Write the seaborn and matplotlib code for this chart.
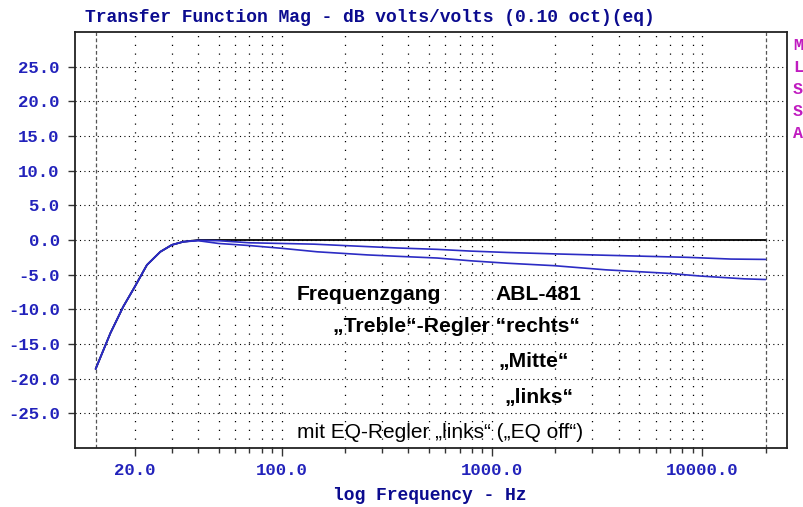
import matplotlib
matplotlib.use("Agg")
import matplotlib.pyplot as plt
import seaborn as sns
import pandas as pd
from matplotlib.ticker import FixedLocator, NullFormatter

# frequency response curves (Hz, dB)
freq_rechts = [13, 15.3, 17.6, 20, 22.8, 26.4, 30, 34, 40, 20000]
db_rechts = [-18.6, -13.4, -9.6, -6.7, -3.6, -1.7, -0.7, -0.25, 0.0, 0.0]

freq_mitte = [13, 15.3, 17.6, 20, 22.8, 26.4, 30, 34, 40, 50, 70, 142, 354,
              548, 791, 1181, 1968, 3470, 8500, 13700, 20000]
db_mitte = [-18.6, -13.4, -9.6, -6.7, -3.6, -1.7, -0.7, -0.25, -0.05, -0.1, -0.4,
            -0.6, -1.15, -1.35, -1.6, -1.8, -2.0, -2.2, -2.5, -2.75, -2.8]

freq_links = [13, 15.3, 17.6, 20, 22.8, 26.4, 30, 34, 40, 50, 70, 100, 147, 255,
              354, 548, 791, 1181, 1968, 3470, 6820, 9800, 15800, 20000]
db_links = [-18.6, -13.4, -9.6, -6.7, -3.6, -1.7, -0.7, -0.25, -0.1, -0.5, -0.8,
            -1.2, -1.7, -2.15, -2.35, -2.6, -3.0, -3.35, -3.7, -4.3, -4.8, -5.2,
            -5.6, -5.7]

y_ticks = [-25, -20, -15, -10, -5, 0, 5, 10, 15, 20, 25]
x_major = [20, 100, 1000, 10000]
x_major_labels = ["20.0", "100.0", "1000.0", "10000.0"]
x_minor = [30, 40, 50, 60, 70, 80, 90, 200, 300, 400, 500, 600, 700, 800, 900,
           2000, 3000, 4000, 5000, 6000, 7000, 8000, 9000, 20000]
grid_freqs = [20, 30, 40, 50, 60, 70, 80, 90, 100, 200, 300, 400, 500, 600, 700,
              800, 900, 1000, 2000, 3000, 4000, 5000, 6000, 7000, 8000, 9000, 10000]
marker_freqs = [13, 20000]

sns.set_theme(style="white")
plt.rcParams["font.family"] = ["Liberation Sans", "DejaVu Sans"]

fig = plt.figure(figsize=(8.04, 5.07), dpi=100)
ax = fig.add_axes([75 / 804, 1 - 448 / 507, 712 / 804, 416 / 507])

ax.set_xscale("log")
ax.set_xlim(10.37, 25300)
ax.set_ylim(-30, 30)

# grid
for y in y_ticks:
    ax.axhline(y, color="black", lw=0.8, ls=(0, (1, 3)), zorder=1)
for f in grid_freqs:
    ax.axvline(f, color="black", lw=0.9, ls=(0, (1, 6)), zorder=1)
for f in marker_freqs:
    ax.axvline(f, color="#555555", lw=0.9, ls=(0, (3, 2)), zorder=1)

blue = "#2c2cc4"
sns.lineplot(x=freq_rechts, y=db_rechts, ax=ax, color="black", lw=1.3,
             estimator=None, sort=False, zorder=2)
sns.lineplot(x=freq_mitte, y=db_mitte, ax=ax, color=blue, lw=1.2,
             estimator=None, sort=False, zorder=3)
sns.lineplot(x=freq_links, y=db_links, ax=ax, color=blue, lw=1.2,
             estimator=None, sort=False, zorder=3)

for s in ax.spines.values():
    s.set_color("#222222")
    s.set_linewidth(1.3)

tick_font = dict(family=["Liberation Mono", "DejaVu Sans Mono"], weight="bold", size=12.5)
ax.set_yticks(y_ticks)
ax.set_yticklabels([f"{v:.1f}" for v in y_ticks], color="#2222bb", fontdict=tick_font)
ax.xaxis.set_major_locator(FixedLocator(x_major))
ax.xaxis.set_minor_locator(FixedLocator(x_minor))
ax.xaxis.set_minor_formatter(NullFormatter())
ax.set_xticklabels(x_major_labels, color="#2222bb", fontdict=tick_font)
ax.tick_params(axis="y", which="major", direction="out", length=5, width=1, color="#333333", pad=6, left=True)
ax.tick_params(axis="x", which="major", direction="out", length=6, width=1, color="#333333", pad=5, bottom=True)
ax.tick_params(axis="x", which="minor", direction="out", length=3.5, width=1, color="#333333", bottom=True)
ax.set_xlabel("")
ax.set_ylabel("")

navy = "#0b0b8f"
mono = ["Liberation Mono", "DejaVu Sans Mono"]
fig.text(369.5 / 804, 1 - 18 / 507, "Transfer Function Mag - dB volts/volts (0.10 oct)(eq)",
         family=mono, weight="bold", size=13, color=navy, ha="center", va="center")
fig.text(430 / 804, 1 - 495 / 507, "log Frequency - Hz",
         family=mono, weight="bold", size=13, color=navy, ha="center", va="center")
for letter, ypx in zip("MLSSA", [45, 67, 89, 111, 133]):
    fig.text(798 / 804, 1 - ypx / 507, letter, family=mono, weight="bold", size=12,
             color="#c01cc0", ha="center", va="center")

tf = ax.transAxes
bold = dict(weight="bold", size=15.2, color="black", transform=tf, va="center")
ax.text((297 - 75) / 712, (448 - 295) / 416, "Frequenzgang", ha="left", **bold)
ax.text((495 - 75) / 712, (448 - 295) / 416, "ABL-481", ha="left", **bold)
ax.text((333 - 75) / 712, (448 - 327) / 416, "\u201eTreble\u201c-Regler \u201crechts\u201c", ha="left", **bold)
ax.text((534 - 75) / 712, (448 - 362) / 416, "\u201eMitte\u201c", ha="center", **bold)
ax.text((539 - 75) / 712, (448 - 397) / 416, "\u201elinks\u201c", ha="center", **bold)
ax.text((297 - 75) / 712, (448 - 432) / 416,
        "mit EQ-Regler \u201elinks\u201c (\u201eEQ off\u201c)", ha="left", va="center",
        size=15, color="black", transform=tf)

fig.savefig("out.png", dpi=100)
